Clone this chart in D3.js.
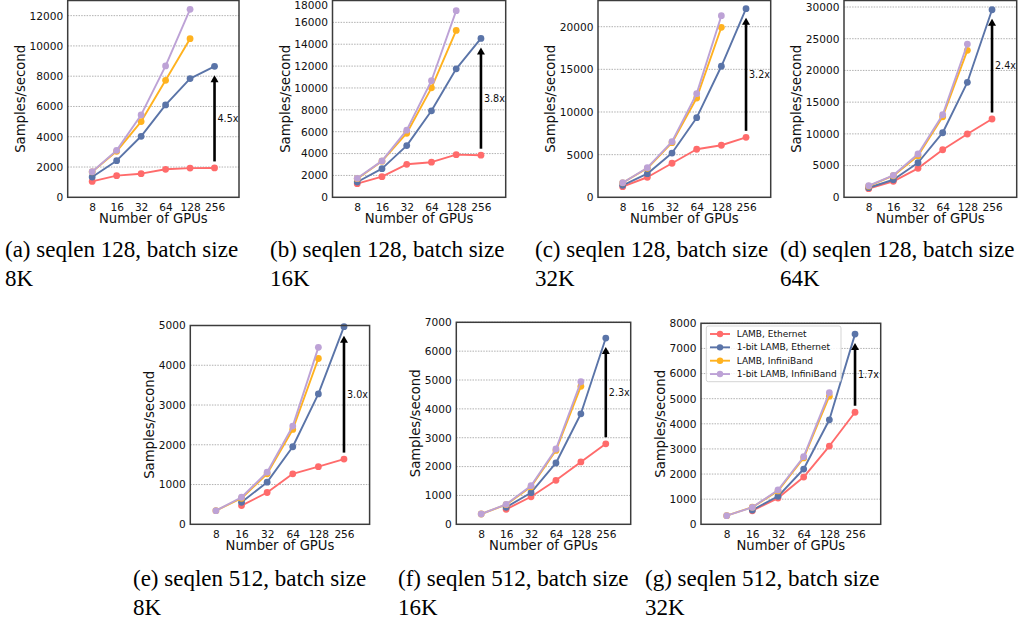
<!DOCTYPE html>
<html>
<head>
<meta charset="utf-8">
<script src="https://cdn.jsdelivr.net/npm/d3@7/dist/d3.min.js"></script>
<style>
  html, body { margin: 0; padding: 0; background: #fff; }
  svg { display: block; }
</style>
</head>
<body>
<svg id="chart" width="1023" height="619"></svg>
<script>
// ---------------- DATA ----------------
const gpuCounts = ["8", "16", "32", "64", "128", "256"];
const seriesNames = ["LAMB, Ethernet", "1-bit LAMB, Ethernet", "LAMB, InfiniBand", "1-bit LAMB, InfiniBand"];
const seriesColors = ["#ff6b6b", "#5a74a8", "#ffb21f", "#bda2d6"];

// (a) seqlen 128, batch 8K
const lambEth_a    = [1050, 1430, 1560, 1850, 1930, 1940];
const onebitEth_a  = [1340, 2420, 4030, 6100, 7840, 8650];
const lambIB_a     = [1680, 3040, 5000, 7730, 10480, null];
const onebitIB_a   = [1690, 3100, 5440, 8680, 12420, null];
// (b) seqlen 128, batch 16K
const lambEth_b    = [1250, 1890, 3020, 3210, 3900, 3850];
const onebitEth_b  = [1400, 2620, 4730, 7910, 11750, 14530];
const lambIB_b     = [1700, 3300, 5860, 10010, 15260, null];
const onebitIB_b   = [1740, 3330, 6140, 10660, 17070, null];
// (c) seqlen 128, batch 32K
const lambEth_c    = [1240, 2350, 3990, 5630, 6100, 7030];
const onebitEth_c  = [1410, 2770, 5190, 9330, 15360, 22110];
const lambIB_c     = [1700, 3400, 6400, 11640, 19930, null];
const onebitIB_c   = [1710, 3470, 6520, 12150, 21290, null];
// (d) seqlen 128, batch 64K
const lambEth_d    = [1360, 2520, 4570, 7500, 9980, 12340];
const onebitEth_d  = [1510, 2770, 5450, 10180, 18130, 29570];
const lambIB_d     = [1750, 3400, 6560, 12700, 23170, null];
const onebitIB_d   = [1830, 3470, 6830, 13020, 24160, null];
// (e) seqlen 512, batch 8K
const lambEth_e    = [null, 470, 800, 1270, 1450, 1640];
const onebitEth_e  = [null, 555, 1060, 1950, 3280, 4970];
const lambIB_e     = [343, 655, 1270, 2385, 4170, null];
const onebitIB_e   = [343, 680, 1310, 2470, 4450, null];
// (f) seqlen 512, batch 16K
const lambEth_f    = [null, 520, 955, 1525, 2160, 2790];
const onebitEth_f  = [null, 590, 1095, 2125, 3830, 6455];
const lambIB_f     = [357, 680, 1300, 2560, 4780, null];
const onebitIB_f   = [357, 693, 1337, 2610, 4940, null];
// (g) seqlen 512, batch 32K
const lambEth_g    = [null, 540, 1045, 1880, 3115, 4460];
const onebitEth_g  = [null, 570, 1115, 2200, 4160, 7570];
const lambIB_g     = [342, 680, 1330, 2640, 5100, null];
const onebitIB_g   = [342, 676, 1365, 2690, 5240, null];

const speedups = ["4.5x", "3.8x", "3.2x", "2.4x", "3.0x", "2.3x", "1.7x"];

const yTicks_a = [0, 2000, 4000, 6000, 8000, 10000, 12000];
const yTicks_b = [0, 2000, 4000, 6000, 8000, 10000, 12000, 14000, 16000, 18000];
const yTicks_c = [0, 5000, 10000, 15000, 20000];
const yTicks_d = [0, 5000, 10000, 15000, 20000, 25000, 30000];
const yTicks_e = [0, 1000, 2000, 3000, 4000, 5000];
const yTicks_f = [0, 1000, 2000, 3000, 4000, 5000, 6000, 7000];
const yTicks_g = [0, 1000, 2000, 3000, 4000, 5000, 6000, 7000, 8000];

const captions = [
  ["(a) seqlen 128, batch size", "8K"],
  ["(b) seqlen 128, batch size", "16K"],
  ["(c) seqlen 128, batch size", "32K"],
  ["(d) seqlen 128, batch size", "64K"],
  ["(e) seqlen 512, batch size", "8K"],
  ["(f) seqlen 512, batch size", "16K"],
  ["(g) seqlen 512, batch size", "32K"]
];

const xLabel = "Number of GPUs";
const yLabel = "Samples/second";

// ---------------- LAYOUT ----------------
const panels = [
  { series: [lambEth_a, onebitEth_a, lambIB_a, onebitIB_a], ticks: yTicks_a, L: 67.7,  R: 239,    T: 0.5,   B: 197.3, yMax: 13000, capX: 5,   capY: 257 },
  { series: [lambEth_b, onebitEth_b, lambIB_b, onebitIB_b], ticks: yTicks_b, L: 332.5, R: 505.7,  T: 0.5,   B: 197.3, yMax: 18000, capX: 270, capY: 257 },
  { series: [lambEth_c, onebitEth_c, lambIB_c, onebitIB_c], ticks: yTicks_c, L: 598,   R: 770.7,  T: 0.5,   B: 197.3, yMax: 23070, capX: 535, capY: 257 },
  { series: [lambEth_d, onebitEth_d, lambIB_d, onebitIB_d], ticks: yTicks_d, L: 844,   R: 1016.7, T: 0.5,   B: 197.3, yMax: 31025, capX: 780, capY: 257 },
  { series: [lambEth_e, onebitEth_e, lambIB_e, onebitIB_e], ticks: yTicks_e, L: 190.3, R: 369.6,  T: 325.5, B: 524.3, yMax: 5000,  capX: 133, capY: 586 },
  { series: [lambEth_f, onebitEth_f, lambIB_f, onebitIB_f], ticks: yTicks_f, L: 456.3, R: 630.7,  T: 322.3, B: 524.3, yMax: 7000,  capX: 398, capY: 586 },
  { series: [lambEth_g, onebitEth_g, lambIB_g, onebitIB_g], ticks: yTicks_g, L: 701,   R: 880.7,  T: 323.3, B: 524.3, yMax: 8000,  capX: 645, capY: 586, legend: true }
];

const svg = d3.select("#chart");
const FONT = "'DejaVu Sans', sans-serif";

panels.forEach((p, pi) => {
  const g = svg.append("g");
  const x = d3.scaleLinear().domain([-1, gpuCounts.length]).range([p.L, p.R]);
  const y = d3.scaleLinear().domain([0, p.yMax]).range([p.B, p.T]);

  // grid
  g.selectAll("line.grid").data(p.ticks.filter(t => t > 0)).enter().append("line")
    .attr("x1", p.L).attr("x2", p.R)
    .attr("y1", d => y(d)).attr("y2", d => y(d))
    .attr("stroke", "#a8a8a8").attr("stroke-width", 0.9)
    .attr("stroke-dasharray", "1.5,1.2");

  // y axis labels via d3 axis
  const yAxis = d3.axisLeft(y).tickValues(p.ticks).tickSize(0).tickPadding(4.5).tickFormat(d3.format("d"));
  const ya = g.append("g").attr("transform", `translate(${p.L},0)`).call(yAxis);
  ya.select(".domain").remove();
  ya.selectAll("text").attr("font-family", FONT).attr("font-size", 10.6).attr("fill", "#111");
  // keep a tick label that would sit on the top edge of the page fully visible
  ya.selectAll(".tick").each(function(d) {
    if (y(d) < 5) d3.select(this).select("text").attr("dy", "0.32em").attr("y", 5 - y(d));
  });

  // x axis labels
  const xAxis = d3.axisBottom(x).tickValues(d3.range(gpuCounts.length)).tickSize(0).tickPadding(6)
    .tickFormat(i => gpuCounts[i]);
  const xa = g.append("g").attr("transform", `translate(0,${p.B})`).call(xAxis);
  xa.select(".domain").remove();
  xa.selectAll("text").attr("font-family", FONT).attr("font-size", 10.6).attr("fill", "#111");

  // series
  const line = d3.line().defined(d => d.v != null).x(d => x(d.i)).y(d => y(d.v));
  p.series.forEach((vals, si) => {
    const pts = vals.map((v, i) => ({ i, v }));
    g.append("path").datum(pts)
      .attr("d", line).attr("fill", "none")
      .attr("stroke", seriesColors[si]).attr("stroke-width", 1.9)
      .attr("stroke-linejoin", "round");
    g.selectAll(null).data(pts.filter(d => d.v != null)).enter().append("circle")
      .attr("cx", d => x(d.i)).attr("cy", d => y(d.v)).attr("r", 3.4)
      .attr("fill", seriesColors[si]);
  });

  // speedup arrow
  const last = gpuCounts.length - 1;
  const ax = x(last);
  const y0 = y(p.series[0][last]) - 6.5;
  const y1 = y(p.series[1][last]) + 9;
  g.append("line").attr("x1", ax).attr("x2", ax).attr("y1", y0).attr("y2", y1 + 6)
    .attr("stroke", "#000").attr("stroke-width", 2.6);
  g.append("path")
    .attr("d", `M${ax - 4},${y1 + 7} L${ax + 4},${y1 + 7} L${ax},${y1} Z`)
    .attr("fill", "#000");
  g.append("text").attr("x", ax + 3).attr("y", (y0 + y1) / 2)
    .attr("dominant-baseline", "central")
    .attr("font-family", FONT).attr("font-size", 9.6).attr("fill", "#111")
    .text(speedups[pi]);

  // spines
  g.append("rect").attr("x", p.L).attr("y", p.T).attr("width", p.R - p.L).attr("height", p.B - p.T)
    .attr("fill", "none").attr("stroke", "#3c3c3c").attr("stroke-width", 1.5);

  // axis titles
  g.append("text").attr("x", (p.L + p.R) / 2).attr("y", p.B + 21)
    .attr("text-anchor", "middle").attr("dominant-baseline", "central")
    .attr("font-family", FONT).attr("font-size", 13.2).attr("fill", "#111")
    .text(xLabel);
  const digits = String(p.ticks[p.ticks.length - 1]).length;
  const ylx = p.L - (15 + 6.5 * digits);
  g.append("text")
    .attr("transform", `translate(${ylx},${(p.T + p.B) / 2}) rotate(-90)`)
    .attr("text-anchor", "middle").attr("dominant-baseline", "central")
    .attr("font-family", FONT).attr("font-size", 13.2).attr("fill", "#111")
    .text(yLabel);

  // legend
  if (p.legend) {
    const lg = g.append("g");
    lg.append("rect").attr("x", 706.3).attr("y", 326).attr("width", 134.7).attr("height", 55.7)
      .attr("rx", 2).attr("fill", "#fff").attr("fill-opacity", 0.85)
      .attr("stroke", "#d0d0d0").attr("stroke-width", 0.9);
    seriesNames.forEach((name, si) => {
      const ly = 334 + si * 13.35;
      lg.append("line").attr("x1", 710).attr("x2", 730).attr("y1", ly).attr("y2", ly)
        .attr("stroke", seriesColors[si]).attr("stroke-width", 1.9);
      lg.append("circle").attr("cx", 720).attr("cy", ly).attr("r", 3.2).attr("fill", seriesColors[si]);
      lg.append("text").attr("x", 736.7).attr("y", ly).attr("dominant-baseline", "central")
        .attr("font-family", FONT).attr("font-size", 9).attr("fill", "#111").text(name);
    });
  }

  // caption
  const cap = svg.append("text").attr("font-family", "'Liberation Serif', 'Times New Roman', serif")
    .attr("font-size", 23).attr("fill", "#000");
  cap.append("tspan").attr("x", p.capX).attr("y", p.capY).text(captions[pi][0]);
  cap.append("tspan").attr("x", p.capX).attr("y", p.capY + 28.5).text(captions[pi][1]);
});
</script>
</body>
</html>
